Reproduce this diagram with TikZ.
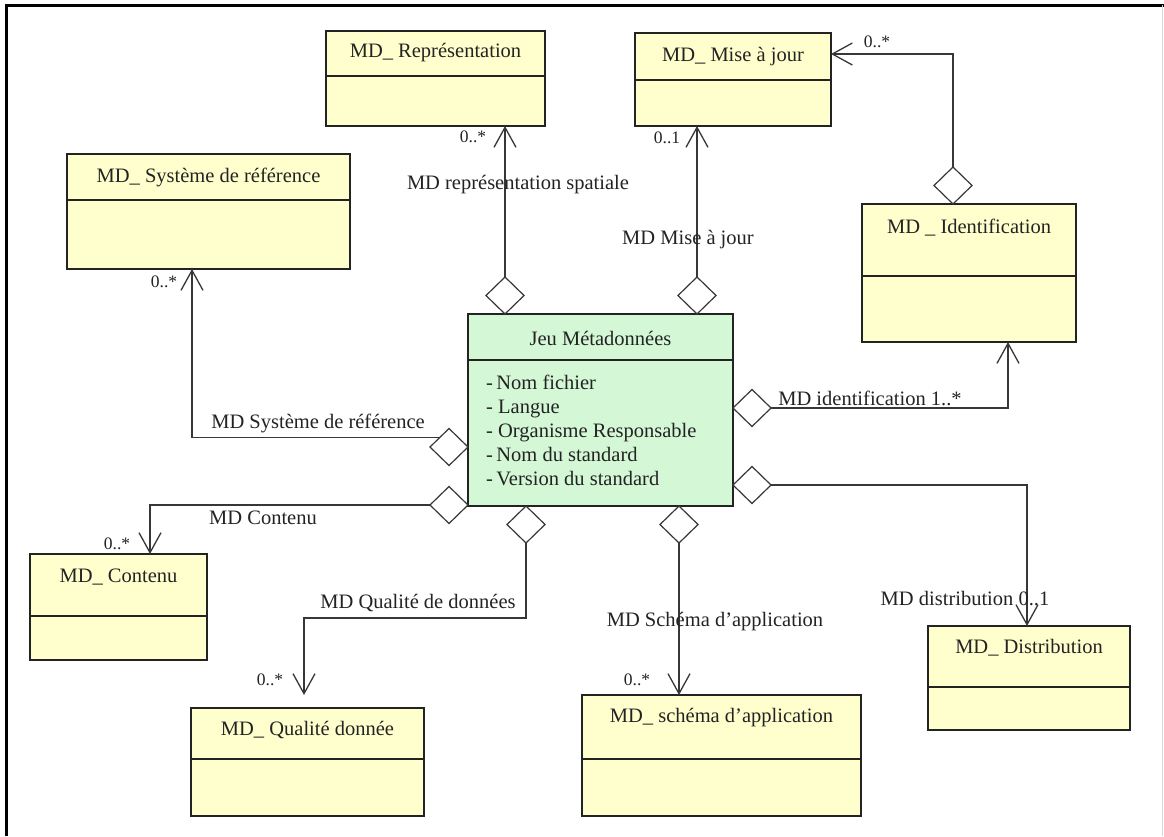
\documentclass[tikz,border=0pt]{standalone}
\usepackage{fontspec}
\setmainfont{Liberation Serif}
\usetikzlibrary{arrows.meta,shapes.geometric}
\definecolor{classyellow}{RGB}{255,255,205}
\definecolor{classgreen}{RGB}{212,247,214}
\definecolor{ink}{RGB}{35,35,35}
\definecolor{wire}{RGB}{55,55,55}
\begin{document}
\begin{tikzpicture}[x=1pt,y=-1pt,
  classbox/.style={draw=ink,line width=1.5pt,inner sep=0pt,outer sep=0pt},
  divider/.style={draw=ink,line width=1.5pt},
  ctitle/.style={font=\fontsize{20.5}{24}\selectfont,text=ink,inner sep=0pt},
  rolelabel/.style={font=\fontsize{20.5}{24}\selectfont,text=ink,inner sep=0pt},
  multlabel/.style={font=\fontsize{17.5}{20}\selectfont,text=ink,inner sep=0pt},
  agg/.style={diamond,draw=wire,fill=white,line width=1.2pt,inner sep=0pt,
    outer sep=0pt,minimum width=38pt,minimum height=37pt},
  assoc/.style={draw=wire,line width=1.3pt,
    -{Straight Barb[length=20pt,width=22pt,line width=1.3pt]}},
]
\useasboundingbox (0,0) rectangle (1164,836);
\fill[white] (0,0) rectangle (1164,836);

% page frame
\draw[black,line width=3pt] (6,836) -- (6,5) -- (1164,5);
\draw[gray!30,line width=0.8pt] (1162,5) -- (1162,836);

% classes
\node[classbox,fill=classyellow,minimum width=219pt,minimum height=95pt] (rep) at (435.5,78.5) {};
\draw[divider] (rep.north west) ++(0,45) -- ++(219,0);
\node[ctitle] (repT) at (435.5,53) {MD\_ Représentation};

\node[classbox,fill=classyellow,minimum width=196pt,minimum height=93pt] (maj) at (733,79.5) {};
\draw[divider] (maj.north west) ++(0,47) -- ++(196,0);
\node[ctitle] (majT) at (733,57) {MD\_ Mise à jour};

\node[classbox,fill=classyellow,minimum width=283pt,minimum height=115pt] (sys) at (208.5,211.5) {};
\draw[divider] (sys.north west) ++(0,46) -- ++(283,0);
\node[ctitle] (sysT) at (208.5,177) {MD\_ Système de référence};

\node[classbox,fill=classyellow,minimum width=214pt,minimum height=138pt] (ide) at (969,273) {};
\draw[divider] (ide.north west) ++(0,72) -- ++(214,0);
\node[ctitle] (ideT) at (969,228) {MD \_ Identification};

\node[classbox,fill=classgreen,minimum width=265pt,minimum height=192pt] (jeu) at (600.5,410) {};
\draw[divider] (jeu.north west) ++(0,46) -- ++(265,0);
\node[ctitle] (jeuT) at (600.5,338) {Jeu Métadonnées};
\node[ctitle,anchor=west,align=left,font=\fontsize{20.5}{24}\selectfont] (jeuA) at (486,430)
  {-\,Nom fichier\\- Langue\\- Organisme Responsable\\-\,Nom du standard\\-\,Version du standard};

\node[classbox,fill=classyellow,minimum width=177pt,minimum height=106pt] (con) at (118.5,607) {};
\draw[divider] (con.north west) ++(0,62) -- ++(177,0);
\node[ctitle] (conT) at (118.5,577) {MD\_ Contenu};

\node[classbox,fill=classyellow,minimum width=233pt,minimum height=108pt] (qua) at (307.5,762) {};
\draw[divider] (qua.north west) ++(0,51) -- ++(233,0);
\node[ctitle] (quaT) at (307.5,730) {MD\_ Qualité donnée};

\node[classbox,fill=classyellow,minimum width=279pt,minimum height=121pt] (sch) at (721.5,755.5) {};
\draw[divider] (sch.north west) ++(0,64) -- ++(279,0);
\node[ctitle] (schT) at (721.5,718) {MD\_ schéma d'application};

\node[classbox,fill=classyellow,minimum width=202pt,minimum height=104pt] (dis) at (1029,678) {};
\draw[divider] (dis.north west) ++(0,61) -- ++(202,0);
\node[ctitle] (disT) at (1029,648) {MD\_ Distribution};

% aggregation diamonds
\node[agg] (dRep) at (505,295.5) {};
\node[agg] (dMaj) at (697,295.5) {};
\node[agg] (dIdt) at (953,185.5) {};
\node[agg] (dSys) at (449,447) {};
\node[agg] (dCon) at (449,505) {};
\node[agg] (dIde) at (752,408) {};
\node[agg] (dDis) at (752,485) {};
\node[agg] (dQua) at (526,524.5) {};
\node[agg] (dSch) at (679,524.5) {};

% bend points of the associations
\coordinate (kIdt) at (953,54);
\coordinate (kSys) at (192,269);
\coordinate (kCon) at (150,554);
\coordinate (kQua) at (304,618);
\coordinate (tQua) at (304,695);
\coordinate (kIde) at (1008,342);
\coordinate (kDis) at (1027,626);

% associations
\draw[assoc] (dRep.north) -- (dRep.north |- rep.south);
\draw[assoc] (dMaj.north) -- (dMaj.north |- maj.south);
\draw[assoc] (dIdt.north) -- (kIdt) -- (kIdt -| maj.east);
\draw[assoc] (dSys.north west) -| (kSys);
\draw[assoc] (dCon.west) -| (kCon);
\draw[assoc] (dQua.south) |- (kQua) -- (tQua);
\draw[assoc] (dSch.south) -- (dSch.south |- sch.north);
\draw[assoc] (dIde.east) -| (kIde);
\draw[assoc] (dDis.east) -| (kDis);

% role names and multiplicities
\node[multlabel] (mRep) at (473,137) {0..*};
\node[rolelabel] (lRep) at (518,185) {MD représentation spatiale};
\node[multlabel] (mMaj) at (667,138) {0..1};
\node[rolelabel] (lMaj) at (688,240) {MD Mise à jour};
\node[multlabel] (mIdt) at (877,42) {0..*};
\node[multlabel] (mSys) at (164,282) {0..*};
\node[rolelabel] (lSys) at (318,423) {MD Système de référence};
\node[rolelabel] (lCon) at (263,518) {MD Contenu};
\node[multlabel] (mCon) at (117,544) {0..*};
\node[rolelabel] (lQua) at (418,603) {MD Qualité de données};
\node[multlabel] (mQua) at (270,680) {0..*};
\node[rolelabel] (lSch) at (715,622) {MD Schéma d'application};
\node[multlabel] (mSch) at (637,680) {0..*};
\node[rolelabel] (lIde) at (870,398) {MD identification 1..*};
\node[rolelabel] (lDis) at (965,599) {MD distribution 0..1};
\end{tikzpicture}
\end{document}
